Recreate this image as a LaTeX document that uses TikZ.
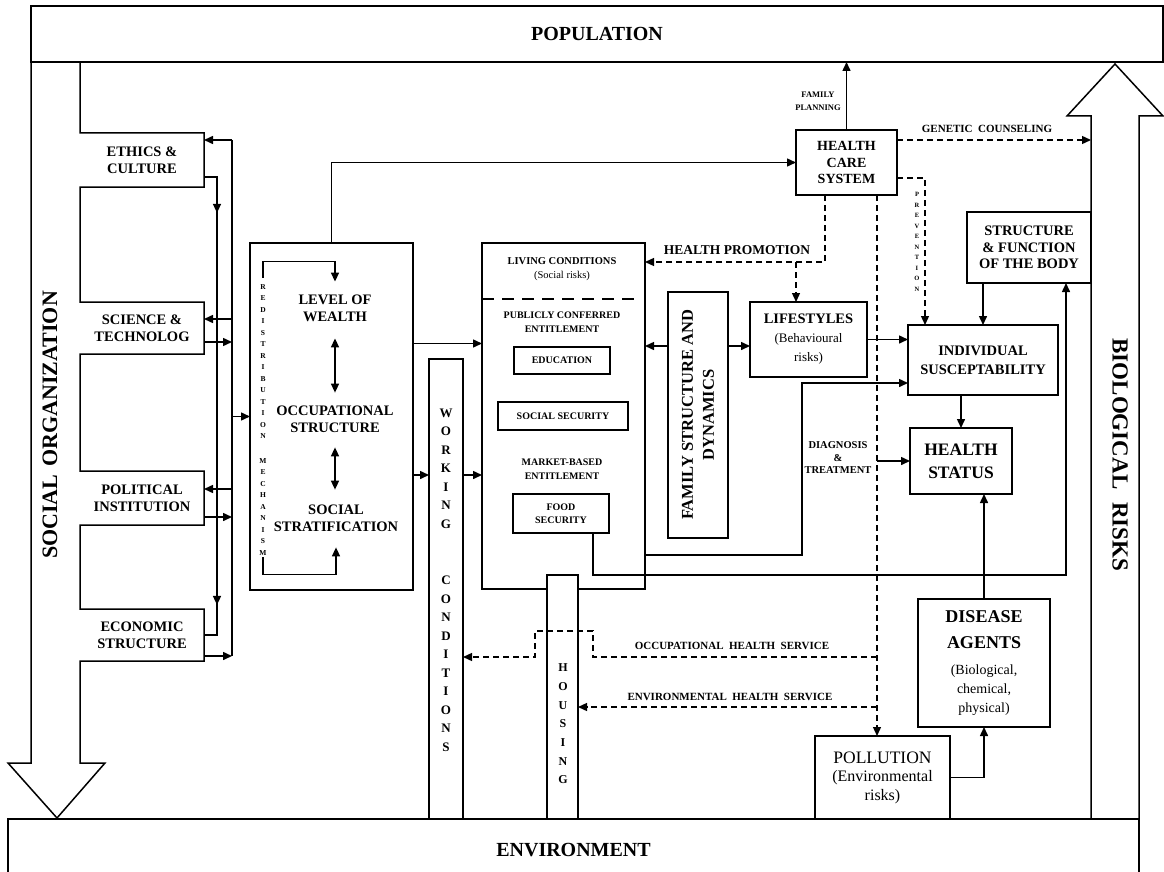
\documentclass[tikz,border=0pt]{standalone}
\usepackage{fontspec}
\setmainfont{Liberation Serif}
\usetikzlibrary{arrows.meta,decorations.markings}

\newcommand{\fsz}[2]{\fontsize{#1}{#2}\selectfont}

\begin{document}
\begin{tikzpicture}[
  x=1pt, y=-1pt,
  line width=1.5pt,
  every node/.style={inner sep=0pt, outer sep=0pt},
  box/.style={draw, align=center, font=\bfseries\fsz{14}{17}},
  sidebox/.style={align=center, minimum width=124pt, font=\bfseries\fsz{14.5}{17}},
  txt/.style={align=center, font=\bfseries\fsz{14.5}{17}},
  tiny/.style={align=center, font=\bfseries\fsz{10}{13.5}},
  stack/.style={align=center, font=\bfseries\fsz{13}{18.5}},
  arr/.style={-{Triangle[length=9pt,width=8pt]}},
  darr/.style={arr, line width=1.3pt, dash pattern=on 6pt off 4pt},
  dbl/.style={{Triangle[length=9pt,width=8pt]}-{Triangle[length=9pt,width=8pt]}},
  midarr/.style={postaction={decorate}, decoration={markings,
    mark=at position 0.101 with {\arrow{Triangle[length=9pt,width=8pt]}},
    mark=at position 0.911 with {\arrow{Triangle[length=9pt,width=8pt]}}}}
]
\useasboundingbox (0,0) rectangle (1164,872);

% population and environment
\node[box, minimum width=1132pt, minimum height=56pt, font=\bfseries\fsz{20}{24}] (population) at (597,34) {POPULATION};
\node[box, minimum width=1131pt, minimum height=62pt, font=\bfseries\fsz{20}{24}] (environment) at (573.5,850) {ENVIRONMENT};

% social organization
\node[sidebox, minimum height=54pt] (ethics) at (142,160) {ETHICS \&\\CULTURE};
\node[sidebox, minimum height=52pt] (science) at (142,328) {SCIENCE \&\\TECHNOLOG};
\node[sidebox, minimum height=54pt] (political) at (142,498) {POLITICAL\\INSTITUTION};
\node[sidebox, minimum height=52pt] (economic) at (142,635) {ECONOMIC\\STRUCTURE};
\node[rotate=90, font=\bfseries\fsz{22}{24}] (socorg) at (50,425) {SOCIAL\hspace{8pt}ORGANIZATION};
\draw (population.south west) -- (31,763) -- (8,763) -- (57,818) -- (105,763) -- (80,763)
  -- (economic.south west) -- (economic.south east) -- (economic.north east) -- (economic.north west)
  -- (political.south west) -- (political.south east) -- (political.north east) -- (political.north west)
  -- (science.south west) -- (science.south east) -- (science.north east) -- (science.north west)
  -- (ethics.south west) -- (ethics.south east) -- (ethics.north east) -- (ethics.north west)
  -- (ethics.north west |- population.south);

% wealth
\node[draw, minimum width=163pt, minimum height=347pt] (wealthbox) at (331.5,416.5) {};
\node[txt] (level) at (335,308) {LEVEL OF\\WEALTH};
\node[txt] (occup) at (335,419) {OCCUPATIONAL\\STRUCTURE};
\node[txt] (strat) at (336,518) {SOCIAL\\STRATIFICATION};
\node[align=center, font=\bfseries\fsz{7.5}{11.5}] (redis) at (263,420)
  {R\\E\\D\\I\\S\\T\\R\\I\\B\\U\\T\\I\\O\\N\\[13pt]M\\E\\C\\H\\A\\N\\I\\S\\M};
\draw[dbl] ([yshift=-17pt]level.south -| occup.north) -- ([yshift=13pt]occup.north);
\draw[dbl] ([yshift=-15pt]occup.south) -- ([yshift=15pt]strat.north -| occup.south);
\draw[arr] ([yshift=7pt]redis.north) -- ++(0,-16) -| ([yshift=13pt]level.north);
\draw[arr] ([yshift=-2pt]redis.south) -- ++(0,17) -| ([yshift=-16pt]strat.south);

% buses on the left
\coordinate (busA) at (217,0);
\coordinate (busB) at (232,0);
\draw[midarr] ([yshift=-17pt]ethics.east) -| (busA |- economic.east) -- (economic.east);
\draw ([yshift=20pt]ethics.east -| busB) -- ([yshift=-21pt]economic.east -| busB);
\draw[arr] ([yshift=20pt]ethics.east -| busB) -- ([yshift=20pt]ethics.east);
\draw[arr] ([yshift=9pt]science.east -| busB) -- ([yshift=9pt]science.east);
\draw[arr] ([yshift=-14pt]science.east) -- ([yshift=-14pt]science.east -| busB);
\draw[arr] ([yshift=9pt]political.east -| busB) -- ([yshift=9pt]political.east);
\draw[arr] ([yshift=-19pt]political.east) -- ([yshift=-19pt]political.east -| busB);
\draw[arr] ([yshift=-21pt]economic.east) -- ([yshift=-21pt]economic.east -| busB);
\draw[arr] (wealthbox.west -| busB) -- (wealthbox.west);

% working conditions and living conditions
\node[draw, minimum width=34pt, minimum height=460pt] (working) at (446,589) {};
\node[stack] (worktxt) at (446,580) {W\\O\\R\\K\\I\\N\\G\\[38pt]C\\O\\N\\D\\I\\T\\I\\O\\N\\S};
\node[draw, minimum width=163pt, minimum height=346pt] (living) at (563.5,416) {};
\node[align=center, font=\fsz{10.5}{14}] (livetxt) at (562,269) {\textbf{LIVING CONDITIONS}\\(Social risks)};
\draw[line width=2.8pt, dash pattern=on 12pt off 8pt] ([yshift=-56pt]living.north west) -- ([xshift=-7pt,yshift=-56pt]living.north east);
\node[tiny] (pubtxt) at (562,322) {PUBLICLY CONFERRED\\ENTITLEMENT};
\node[box, font=\bfseries\fsz{10}{13}, minimum width=96pt, minimum height=27pt] (education) at (562,360.5) {EDUCATION};
\node[box, font=\bfseries\fsz{10}{13}, minimum width=130pt, minimum height=28pt] (socsec) at (563,416) {SOCIAL SECURITY};
\node[tiny] (markettxt) at (562,469) {MARKET-BASED\\ENTITLEMENT};
\node[box, font=\bfseries\fsz{10}{13}, minimum width=96pt, minimum height=39pt] (food) at (561,513.5) {FOOD\\SECURITY};
\node[draw, fill=white, minimum width=31pt, minimum height=244pt] (housing) at (562.5,697) {};
\node[stack, font=\bfseries\fsz{12}{18.7}] (housetxt) at (563,724) {H\\O\\U\\S\\I\\N\\G};

\coordinate (rowW) at (0,475);
\draw[arr] ([yshift=73pt]wealthbox.east) -- ([yshift=73pt]wealthbox.east -| living.west);
\draw[arr] (wealthbox.east |- rowW) -- (working.west |- rowW);
\draw[arr] (working.east |- rowW) -- (living.west |- rowW);

% family and lifestyles
\node[draw, minimum width=60pt, minimum height=246pt] (family) at (698,415) {};
\node[rotate=90, align=center, font=\bfseries\fsz{16.5}{21}] (famtxt) at (family) {FAMILY STRUCTURE AND\\DYNAMICS};
\node[box, font=\fsz{13}{19}, minimum width=117pt, minimum height=75pt] (lifestyles) at (808.5,339.5)
  {{\fsz{14.5}{19}\bfseries LIFESTYLES}\\(Behavioural\\risks)};
\coordinate (rowF) at (0,346);
\draw[arr] (family.west |- rowF) -- (living.east |- rowF);
\draw[arr] (family.east |- rowF) -- (lifestyles.west |- rowF);

% health care system
\node[box, font=\bfseries\fsz{14}{16.5}, minimum width=101pt, minimum height=65pt] (hcs) at (846.5,162.5) {HEALTH\\CARE\\SYSTEM};
\node[tiny, font=\bfseries\fsz{8.5}{13}] (famplan) at (818,101) {FAMILY\\PLANNING};
\draw[arr] (hcs.north) -- (hcs.north |- population.south);
\draw[arr] (wealthbox.north) |- (hcs.west);

% body and health
\node[box, font=\bfseries\fsz{14.5}{16.5}, minimum width=124pt, minimum height=71pt] (structure) at (1029,247.5) {STRUCTURE\\\& FUNCTION\\OF THE BODY};
\node[box, minimum width=150pt, minimum height=70pt, font=\bfseries\fsz{14.5}{19}] (indiv) at (983,360) {INDIVIDUAL\\SUSCEPTABILITY};
\node[box, minimum width=102pt, minimum height=66pt, font=\bfseries\fsz{17.5}{23}] (status) at (961,461) {HEALTH\\STATUS};
\node[box, minimum width=132pt, minimum height=128pt, font=\fsz{14}{19}] (disease) at (984,663)
  {{\fsz{18}{19}\bfseries DISEASE}\\[7pt]{\fsz{18}{19}\bfseries AGENTS}\\[7pt](Biological,\\chemical,\\physical)};
\node[box, minimum width=135pt, minimum height=83pt, font=\fsz{16}{18.5}] (pollution) at (882.5,777.5)
  {{\fsz{17.5}{18.5}POLLUTION}\\(Environmental\\risks)};

\draw[arr] (lifestyles.east) -- (lifestyles.east -| indiv.west);
\draw[arr] ([yshift=-139pt]living.east) -| ([xshift=-106pt,yshift=-23pt]indiv.west) -- ([yshift=-23pt]indiv.west);
\draw[arr] ([xshift=32pt]food.south) -- ++(0,42) -| ([xshift=37pt]structure.south);
\draw[arr] (structure.south -| indiv.north) -- (indiv.north);
\draw[arr] (indiv.south -| status.north) -- (status.north);
\draw[arr] (disease.north) -- (disease.north |- status.south);
\draw[arr] (pollution.east) -| (disease.south);

% biological risks
\coordinate (bioshaft) at (1091,116);
\draw (1091,819) -- (bioshaft) -- (1067,116) -- (1115,64) -- (1163,116) -- (1139,116) -- (1139,880);
\node[rotate=-90, font=\bfseries\fsz{23}{26}] (biorisk) at (1120,455) {BIOLOGICAL\hspace{13pt}RISKS};

% services (dashed)
\node[tiny, font=\bfseries\fsz{11}{13}] (genlabel) at (987,129) {GENETIC\enspace COUNSELING};
\draw[darr] ([yshift=22.5pt]hcs.east) -- ([yshift=22.5pt]hcs.east -| bioshaft);
\node[align=center, font=\bfseries\fsz{6.5}{10.5}] (prevtxt) at (917,242) {P\\R\\E\\V\\E\\N\\T\\I\\O\\N};
\draw[darr] ([yshift=-15.5pt]hcs.east) -| ([xshift=17pt]indiv.north west);
\node[txt, font=\bfseries\fsz{13.5}{16}] (promo) at (737,250) {HEALTH PROMOTION};
\draw[darr] ([xshift=-21.5pt]hcs.south) |- ([yshift=154pt]living.east);
\draw[darr] ([xshift=-12.5pt,yshift=40pt]lifestyles.north) -- ([xshift=-12.5pt]lifestyles.north);

\coordinate (hcsdown) at ([xshift=30.5pt]hcs.south);
\draw[darr] (hcsdown) -- (hcsdown |- pollution.north);
\node[tiny, font=\bfseries\fsz{10.5}{12.5}] (diagtxt) at (838,458) {DIAGNOSIS\\\&\\TREATMENT};
\draw[arr] (hcsdown |- status.west) -- (status.west);
\coordinate (rowO) at (0,657);
\coordinate (rowE) at (0,707);
\node[tiny, font=\bfseries\fsz{11}{13}] (occlabel) at (732,646) {OCCUPATIONAL\enspace HEALTH\enspace SERVICE};
\draw[darr] (hcsdown |- rowO) -- ++(-284,0) -- ++(0,-26) -- ++(-58,0) -- ++(0,26) -- (working.east |- rowO);
\node[tiny, font=\bfseries\fsz{11}{13}] (envlabel) at (730,697) {ENVIRONMENTAL\enspace HEALTH\enspace SERVICE};
\draw[darr] (hcsdown |- rowE) -- (housing.east |- rowE);
\end{tikzpicture}
\end{document}
